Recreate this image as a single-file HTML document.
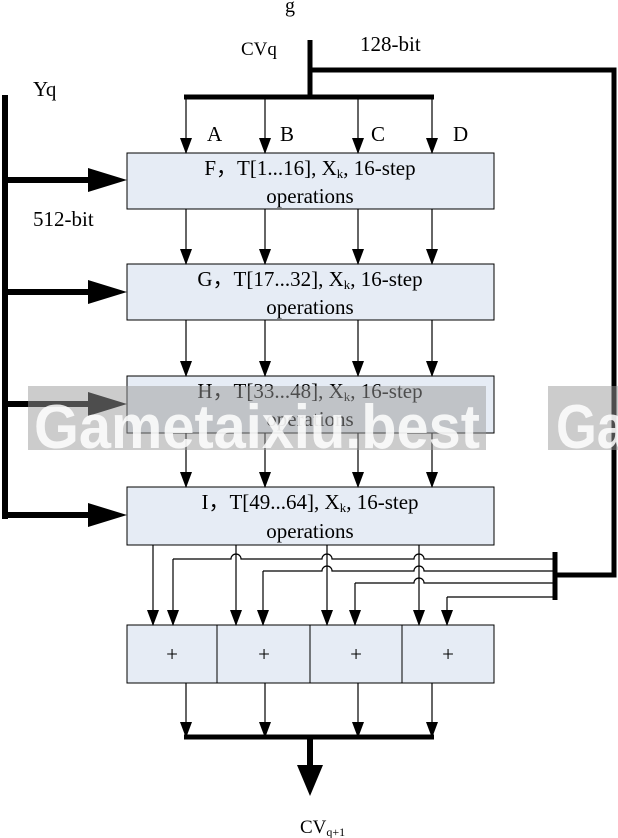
<!DOCTYPE html>
<html><head><meta charset="utf-8"><style>body{margin:0;background:#fff}svg{display:block}</style></head><body>
<svg width="618" height="838" viewBox="0 0 618 838" xmlns="http://www.w3.org/2000/svg" font-family="Liberation Serif, serif">
<defs>
<marker id="a" markerWidth="16" markerHeight="12" refX="15" refY="6" orient="auto" markerUnits="userSpaceOnUse"><path d="M0,0 L16,6 L0,12 z" fill="#000"/></marker>
</defs>
<text x="285" y="12" font-size="20" fill="#000">g</text>
<line x1="310" y1="40" x2="310" y2="97" stroke="#000" stroke-width="5"/>
<line x1="184" y1="97" x2="434" y2="97" stroke="#000" stroke-width="5"/>
<polyline points="310,70 614,70 614,575 556,575" fill="none" stroke="#000" stroke-width="5"/>
<line x1="555" y1="552" x2="555" y2="600" stroke="#000" stroke-width="5"/>
<text x="241" y="55" font-size="19">CVq</text>
<text x="360" y="51" font-size="21">128-bit</text>
<text x="33" y="96" font-size="21">Yq</text>
<text x="33" y="226" font-size="21">512-bit</text>
<g font-size="21"><text x="207" y="141">A</text><text x="280" y="141">B</text><text x="371" y="141">C</text><text x="453" y="141">D</text></g>
<line x1="5" y1="95" x2="5" y2="519" stroke="#000" stroke-width="6"/>
<g stroke="#000" stroke-width="6">
<line x1="5" y1="180" x2="92" y2="180"/><line x1="5" y1="292" x2="92" y2="292"/><line x1="5" y1="404" x2="92" y2="404"/><line x1="5" y1="515" x2="92" y2="515"/>
</g>
<g fill="#000">
<path d="M88,168 L127,180 L88,192z"/><path d="M88,280 L127,292 L88,304z"/><path d="M88,392 L127,404 L88,416z"/><path d="M88,503 L127,515 L88,527z"/>
</g>
<g fill="#e6ecf5" stroke="#000" stroke-width="1">
<rect x="127" y="153" width="367" height="56"/><rect x="127" y="264" width="367" height="56"/><rect x="127" y="376" width="367" height="57"/><rect x="127" y="487" width="367" height="58"/>
<rect x="127" y="625" width="367" height="58"/>
</g>
<g stroke="#000"><line x1="217" y1="625" x2="217" y2="683"/><line x1="310" y1="625" x2="310" y2="683"/><line x1="402" y1="625" x2="402" y2="683"/></g>
<g font-size="21" text-anchor="middle">
<text x="310" y="175">F，T[1...16], X<tspan font-size="13" dy="3">k</tspan><tspan dy="-3">, 16-step</tspan></text><text x="310" y="203">operations</text>
<text x="310" y="286">G，T[17...32], X<tspan font-size="13" dy="3">k</tspan><tspan dy="-3">, 16-step</tspan></text><text x="310" y="314">operations</text>
<text x="310" y="398">H，T[33...48], X<tspan font-size="13" dy="3">k</tspan><tspan dy="-3">, 16-step</tspan></text><text x="310" y="426">operations</text>
<text x="310" y="509">I，T[49...64], X<tspan font-size="13" dy="3">k</tspan><tspan dy="-3">, 16-step</tspan></text><text x="310" y="538">operations</text>
<text x="172" y="661">+</text><text x="264" y="661">+</text><text x="356" y="661">+</text><text x="448" y="661">+</text>
</g>
<g stroke="#000" stroke-width="1.2" marker-end="url(#a)">
<line x1="186" y1="97" x2="186" y2="153"/><line x1="265" y1="97" x2="265" y2="153"/><line x1="358" y1="97" x2="358" y2="153"/><line x1="432" y1="97" x2="432" y2="153"/>
<line x1="186" y1="209" x2="186" y2="264"/><line x1="265" y1="209" x2="265" y2="264"/><line x1="358" y1="209" x2="358" y2="264"/><line x1="432" y1="209" x2="432" y2="264"/>
<line x1="186" y1="320" x2="186" y2="376"/><line x1="265" y1="320" x2="265" y2="376"/><line x1="358" y1="320" x2="358" y2="376"/><line x1="432" y1="320" x2="432" y2="376"/>
<line x1="186" y1="433" x2="186" y2="487"/><line x1="265" y1="433" x2="265" y2="487"/><line x1="358" y1="433" x2="358" y2="487"/><line x1="432" y1="433" x2="432" y2="487"/>
<line x1="153" y1="545" x2="153" y2="625"/><line x1="236" y1="545" x2="236" y2="625"/><line x1="327" y1="545" x2="327" y2="625"/><line x1="419" y1="545" x2="419" y2="625"/>
<line x1="173" y1="559" x2="173" y2="625"/><line x1="263" y1="571" x2="263" y2="625"/><line x1="355" y1="583" x2="355" y2="625"/><line x1="447" y1="597" x2="447" y2="625"/>
<line x1="186" y1="683" x2="186" y2="737"/><line x1="265" y1="683" x2="265" y2="737"/><line x1="358" y1="683" x2="358" y2="737"/><line x1="432" y1="683" x2="432" y2="737"/>
</g>
<g stroke="#000" stroke-width="1.2" fill="none">
<path d="M173,559 L231,559 A5,5 0 0 1 241,559 L322,559 A5,5 0 0 1 332,559 L414,559 A5,5 0 0 1 424,559 L555,559"/>
<path d="M263,571 L322,571 A5,5 0 0 1 332,571 L414,571 A5,5 0 0 1 424,571 L555,571"/>
<path d="M355,583 L414,583 A5,5 0 0 1 424,583 L555,583"/>
<path d="M447,597 L555,597"/>
</g>
<line x1="184" y1="737" x2="434" y2="737" stroke="#000" stroke-width="5"/>
<line x1="310" y1="737" x2="310" y2="770" stroke="#000" stroke-width="6"/>
<path d="M297,765 L323,765 L310,796z" fill="#000"/>
<text x="300" y="833" font-size="19">CV<tspan font-size="12" dy="3">q+1</tspan></text>
<g opacity="0.5">
<rect x="28" y="386" width="458" height="64" fill="#999"/>
<rect x="548" y="386" width="70" height="64" fill="#999"/>
</g>
<g fill="#fff" opacity="0.85" font-family="Liberation Sans, sans-serif" font-weight="bold" font-size="62">
<text x="34" y="448" textLength="446" lengthAdjust="spacingAndGlyphs">Gametaixiu.best</text>
<text x="556" y="448" textLength="70" lengthAdjust="spacingAndGlyphs">Ga</text>
</g>
</svg>
</body></html>
